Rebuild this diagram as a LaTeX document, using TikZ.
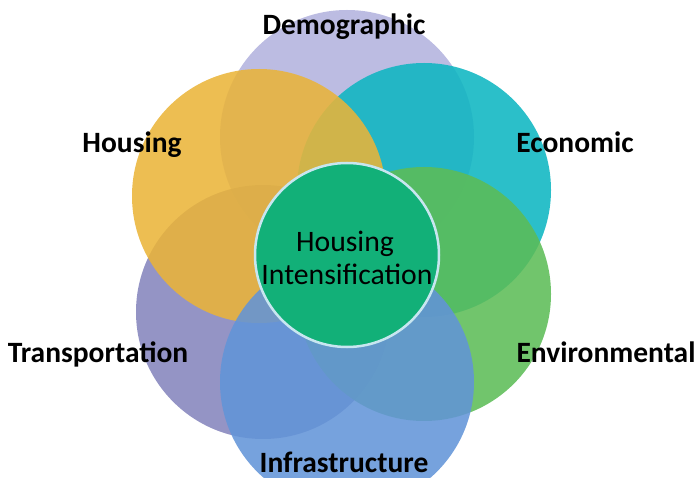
\documentclass[tikz,border=0pt]{standalone}
\usepackage{fontspec}
\setmainfont{Carlito}
\usetikzlibrary{positioning}
\definecolor{demog}{RGB}{178,178,222}
\definecolor{housg}{RGB}{234,180,56}
\definecolor{econ}{RGB}{12,182,193}
\definecolor{envir}{RGB}{92,188,86}
\definecolor{infra}{RGB}{98,148,216}
\definecolor{trans}{RGB}{132,132,188}
\definecolor{hicore}{RGB}{18,176,120}
\definecolor{hiring}{RGB}{200,230,240}

\tikzset{
  disc/.style={circle, inner sep=0pt, minimum size=2*\Rout pt, fill opacity=0.87},
  lbl/.style={anchor=base, inner sep=0pt, font=\fontsize{29.5}{34}\selectfont\bfseries},
  midtext/.style={anchor=base, inner sep=0pt, font=\fontsize{29.7}{34}\selectfont}
}

\begin{document}
\begin{tikzpicture}[x=1pt,y=-1pt]
      \useasboundingbox (0,0) rectangle (696,478);
      \pgfmathsetmacro{\Rout}{127}
      \pgfmathsetmacro{\Rint}{92}

      % outer circles, back to front
      \node[disc, fill=demog] (cdemo) at (347,137) {};
      \node[disc, fill=trans] (ctrans) at (263,312) {};
      \node[disc, fill=econ] (cecon) at (424,190) {};
      \node[disc, fill=housg] (chous) at (259,196) {};
      \node[disc, fill=envir] (cenv) at (424,294) {};
      \node[disc, fill=infra] (cinfra) at (347,382) {};

      % centre
      \node[circle, inner sep=0pt, minimum size=2*\Rint pt, fill=hicore, draw=hiring, line width=2.5pt] (core) at (347,255) {};
      \node[midtext] (hi1) at (345,252) {Housing};
      \node[midtext] (hi2) at (347,285) {Intensification};

      \node[lbl] (ldemo) at (344,35) {Demographic};
      \node[lbl] (lhous) at (132,153) {Housing};
      \node[lbl] (lecon) at (575,153) {Economic};
      \node[lbl] (ltrans) at (98,362) {Transportation};
      \node[lbl] (lenv) at (606,362) {Environmental};
      \node[lbl] (linfra) at (344,472) {Infrastructure};
\end{tikzpicture}
\end{document}
